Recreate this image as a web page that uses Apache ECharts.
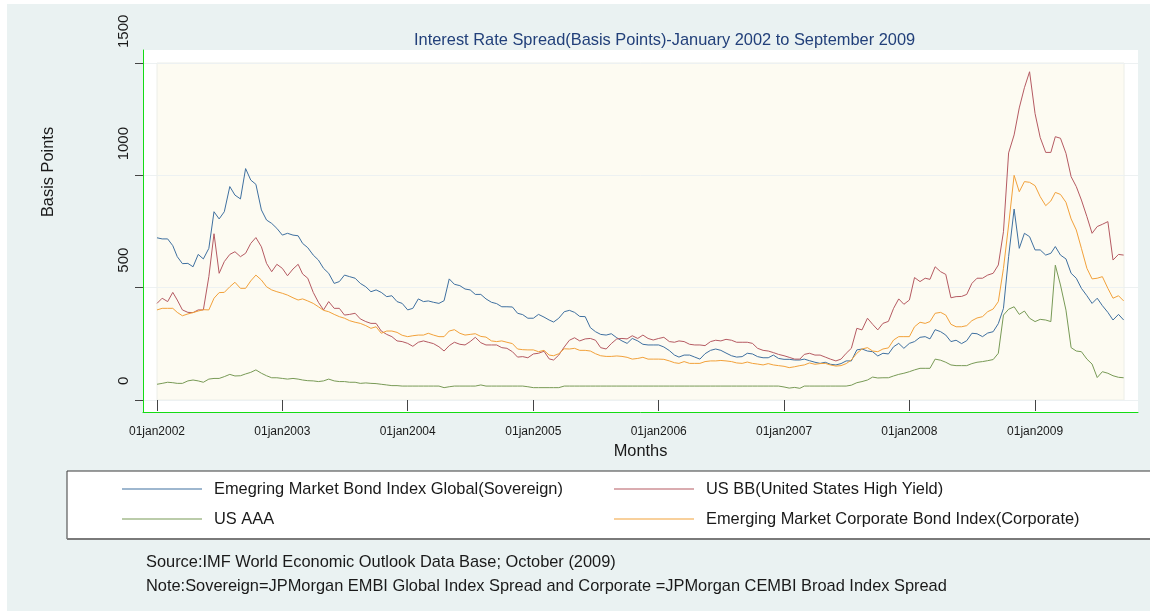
<!DOCTYPE html>
<html><head><meta charset="utf-8">
<script src="https://cdn.jsdelivr.net/npm/echarts@6/dist/echarts.min.js"></script>
<style>
html,body{margin:0;padding:0;background:#ffffff;}
#chart{position:absolute;left:7px;top:4px;width:1143px;height:607px;}
</style></head><body><div id="chart"></div>
<script>
// ---------------- data (semi-monthly observations, Jan 2002 - Sep 2009) ----------------
const seriesNames = [
  'Emegring Market Bond Index Global(Sovereign)',
  'US BB(United States High Yield)',
  'US AAA',
  'Emerging Market Corporate Bond Index(Corporate)'
];
const sovereign = [
  722,717,717,687,638,607,608,593,648,628,675,838,806,838,950,912,895,1030,979,960,846,801,786,764,734,742,734,731,697,678,645,623,586,564,519,527,556,549,542,519,504,482,490,479,460,464,438,
  430,401,408,450,438,441,435,430,442,539,515,509,494,490,470,470,450,435,429,415,415,414,386,380,364,364,381,369,356,347,364,393,399,390,372,371,322,304,292,289,295,277,263,252,274,263,248,
  245,245,245,236,220,200,191,200,200,191,182,206,221,227,221,209,197,191,193,208,205,193,188,188,200,185,181,181,178,178,182,175,168,163,168,159,156,162,174,174,223,227,218,215,196,208,205,
  237,252,230,252,260,279,282,272,313,304,289,260,266,251,264,297,295,282,298,304,340,408,638,850,675,742,727,668,668,645,653,683,645,628,564,542,497,464,430,453,420,390,356,381,356
];
const usBB = [
  430,453,438,479,445,401,390,389,401,401,549,740,564,616,648,660,638,653,697,723,682,608,571,604,586,553,583,604,561,542,479,435,401,438,408,408,378,381,386,361,349,341,341,307,292,282,263,
  260,252,239,257,263,257,251,237,218,242,257,248,245,260,279,255,245,245,245,233,230,215,191,193,188,205,208,217,183,178,200,236,266,277,263,272,274,266,233,227,251,272,274,272,286,274,289,
  274,267,274,279,260,257,263,260,248,245,245,242,260,266,263,270,266,257,257,257,252,230,221,218,211,203,197,190,182,182,203,208,200,200,191,182,174,182,208,230,319,312,364,337,312,341,350,
  408,450,426,445,545,527,542,537,593,571,559,455,460,461,470,519,542,542,556,564,601,749,1100,1180,1300,1390,1461,1275,1168,1102,1102,1172,1165,1098,994,950,890,816,742,772,782,794,623,648,645
];
const usAAA = [
  70,74,79,77,74,74,85,89,85,79,93,96,96,104,114,107,108,116,123,134,119,108,99,99,96,93,96,93,89,86,85,82,85,93,85,82,82,79,79,74,76,74,73,70,67,64,64,
  62,62,62,62,62,62,62,62,55,59,62,62,62,62,62,67,62,62,62,62,62,62,62,62,59,55,55,55,55,55,55,62,62,62,62,62,62,62,62,62,62,62,62,62,62,62,62,
  62,62,62,62,62,62,62,62,62,62,62,62,62,62,62,62,62,62,62,62,62,62,62,62,62,62,58,53,56,52,62,62,62,62,62,62,62,62,62,66,77,82,89,102,98,99,99,
  107,114,119,126,134,141,141,141,182,177,168,156,153,153,153,162,168,171,175,180,208,378,404,415,381,396,364,349,359,356,349,600,512,400,233,218,215,182,160,100,126,119,108,101,99
];
const corporate = [
  401,408,408,408,390,375,383,389,396,402,401,453,478,479,504,524,497,497,530,556,534,504,490,482,475,467,455,445,450,441,430,415,399,393,381,371,364,353,346,341,331,319,326,297,307,307,301,
  288,282,286,289,289,297,289,282,282,307,313,297,289,292,295,283,280,263,260,263,257,251,227,224,223,223,215,221,200,197,206,228,227,230,221,221,218,206,197,194,194,196,194,190,182,185,190,
  182,182,182,181,174,166,163,171,163,163,163,171,174,174,176,174,171,165,163,169,163,160,156,162,156,153,150,144,148,153,156,165,159,162,163,156,151,153,162,178,208,227,233,218,215,227,232,
  267,282,282,282,326,346,341,349,386,390,378,337,326,326,331,353,365,371,393,405,438,586,779,1000,927,972,969,954,905,865,886,924,915,880,806,757,675,586,539,542,549,497,453,464,441
];
const yearTicks = ['2002-01-01','2003-01-01','2004-01-01','2005-01-01','2006-01-01','2007-01-01','2008-01-01','2009-01-01'];
const yTicks = [0, 500, 1000, 1500];
const xStart = '2002-01-01';
const xEnd = '2009-09-17';
const titleText = 'Interest Rate Spread(Basis Points)-January 2002 to September 2009';
const yTitle = 'Basis Points';
const xTitle = 'Months';
const sourceText = 'Source:IMF World Economic Outlook Data Base; October (2009)';
const noteText = 'Note:Sovereign=JPMorgan EMBI Global Index Spread and Corporate =JPMorgan CEMBI Broad Index Spread';

// observation dates: 1st and 16th of each month
const dates = [];
for (let y = 2002; dates.length < sovereign.length; y++) {
  for (let m = 1; m <= 12 && dates.length < sovereign.length; m++) {
    for (const d of [1, 16]) {
      if (dates.length < sovereign.length) dates.push(y + '-' + String(m).padStart(2,'0') + '-' + String(d).padStart(2,'0'));
    }
  }
}
function ts(s){ const p = s.split('-').map(Number); return Date.UTC(p[0], p[1]-1, p[2]); }

// ---------------- styling ----------------
const FONT = '"Liberation Sans", Arial, Helvetica, sans-serif';
const colors = ['#3f70a0', '#b55a62', '#789a56', '#f2a13a'];
const GREEN = '#14dc14';
const TXT = '#1a1a1a';
const BIG = 16.4;

const chart = echarts.init(document.getElementById('chart'), null, {renderer: 'canvas'});
const valuesList = [sovereign, usBB, usAAA, corporate];
const xTickValues = yearTicks.map(ts);

const legendCommon = {
  orient: 'vertical', top: 477, padding: 0,
  itemWidth: 80, itemHeight: 16, itemGap: 14, selectedMode: false, z: 10,
  icon: 'path://M0,7.5H80V8.5H0Z',
  textStyle: { fontSize: BIG, color: TXT, fontFamily: FONT, padding: [0, 0, 0, 7] }
};

const option = {
  backgroundColor: '#eaf2f2',
  animation: false,
  textStyle: { fontFamily: FONT },
  title: [
    { text: titleText, left: 407, top: 28, padding: 0,
      textStyle: { fontSize: BIG, fontWeight: 'normal', color: '#22407a', fontFamily: FONT } },
    { text: sourceText, left: 139, top: 550, padding: 0,
      textStyle: { fontSize: BIG, fontWeight: 'normal', color: TXT, fontFamily: FONT } },
    { text: noteText, left: 139, top: 574, padding: 0,
      textStyle: { fontSize: BIG, fontWeight: 'normal', color: TXT, fontFamily: FONT } }
  ],
  grid: [
    { left: 136, top: 46, right: 12, bottom: 199, show: true, backgroundColor: '#ffffff', borderWidth: 0, z: 0 },
    { left: 150, top: 59, right: 26, bottom: 211, show: true, backgroundColor: '#fdfbf2', borderColor: '#eceee8', borderWidth: 1, z: 2 },
    { left: 136, top: 59, right: 12, bottom: 211, show: false, z: 1 }
  ],
  xAxis: [
    { type: 'value', gridIndex: 0, min: 0, max: 1, z: 6,
      axisLine: { show: true, onZero: false, lineStyle: { color: GREEN, width: 1 } },
      axisTick: { show: false }, axisLabel: { show: false }, splitLine: { show: false } },
    { type: 'value', gridIndex: 1, min: ts(xStart), max: ts(xEnd), offset: 12, z: 3,
      axisLine: { show: false },
      axisTick: { show: true, length: 11, lineStyle: { color: '#444' }, customValues: xTickValues },
      axisLabel: { show: true, customValues: xTickValues, margin: 14, fontSize: 12, color: TXT, fontFamily: FONT,
        formatter: function (v) { return '01jan' + new Date(v).getUTCFullYear(); } },
      splitLine: { show: false },
      name: xTitle, nameLocation: 'middle', nameGap: 31,
      nameTextStyle: { fontSize: BIG, color: TXT, fontFamily: FONT } },
    { type: 'value', gridIndex: 2, min: 0, max: 1, show: false }
  ],
  yAxis: [
    { type: 'value', gridIndex: 0, min: 0, max: 1, z: 6,
      axisLine: { show: true, onZero: false, lineStyle: { color: GREEN, width: 1 } },
      axisTick: { show: false }, axisLabel: { show: false }, splitLine: { show: false } },
    { type: 'value', gridIndex: 1, min: yTicks[0], max: yTicks[yTicks.length-1], interval: 500, offset: 14, z: 3,
      axisLine: { show: false },
      axisTick: { show: true, length: 8, lineStyle: { color: '#444' } },
      axisLabel: { show: true, rotate: 90, align: 'left', padding: [0, 0, 0, 15], margin: 12,
        fontSize: 15, color: TXT, fontFamily: FONT, formatter: function (v) { return String(v); } },
      splitLine: { show: true, lineStyle: { color: '#edf1f2', width: 1 } } },
    { type: 'value', gridIndex: 2, min: yTicks[0], max: yTicks[yTicks.length-1], interval: 500, z: 1,
      axisLine: { show: false }, axisTick: { show: false }, axisLabel: { show: false },
      splitLine: { show: true, lineStyle: { color: '#edf1f2', width: 1 } } }
  ],
  legend: [
    Object.assign({}, legendCommon, { data: [seriesNames[0], seriesNames[2]], left: 115 }),
    Object.assign({}, legendCommon, { data: [seriesNames[1], seriesNames[3]], left: 607 })
  ],
  graphic: [
    { type: 'rect', z: 1, silent: true, shape: { x: 60, y: 467, width: 1100, height: 68 },
      style: { fill: '#ffffff', stroke: '#3a3a3a', lineWidth: 1 } },
    { type: 'line', z: 1, silent: true, shape: { x1: 60, y1: 535, x2: 1143, y2: 535 },
      style: { stroke: '#7a7a7a', lineWidth: 2 } },
    { type: 'text', z: 5, silent: true, x: 41, y: 168, rotation: Math.PI / 2,
      style: { text: yTitle, fontSize: BIG, fill: TXT, fontFamily: FONT, align: 'center', verticalAlign: 'middle' } }
  ],
  series: valuesList.map(function (vals, i) {
    return {
      type: 'line', name: seriesNames[i], xAxisIndex: 1, yAxisIndex: 1, z: 4,
      data: dates.map(function (d, j) { return [ts(d), vals[j]]; }),
      symbol: 'none', showSymbol: false, smooth: false,
      lineStyle: { width: 1, color: colors[i] }, itemStyle: { color: colors[i] }
    };
  })
};
chart.setOption(option);
</script></body></html>
